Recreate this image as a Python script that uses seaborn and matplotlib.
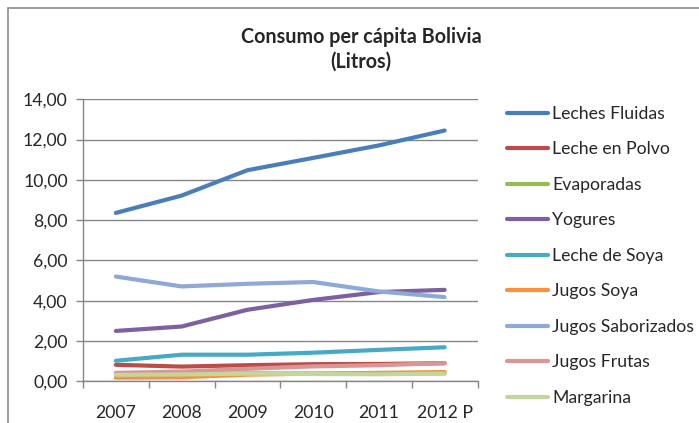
import matplotlib
matplotlib.use("Agg")
import matplotlib.pyplot as plt
from matplotlib.patches import Rectangle
from matplotlib.ticker import FixedLocator, FuncFormatter
import pandas as pd
import seaborn as sns

# Consumo per cápita (litros) por producto y año
years = ["2007", "2008", "2009", "2010", "2011", "2012 P"]
leches_fluidas = [8.36, 9.22, 10.48, 11.09, 11.71, 12.45]
leche_en_polvo = [0.82, 0.73, 0.80, 0.85, 0.86, 0.90]
evaporadas = [0.30, 0.33, 0.40, 0.38, 0.37, 0.40]
yogures = [2.50, 2.72, 3.55, 4.04, 4.43, 4.54]
leche_de_soya = [1.02, 1.32, 1.32, 1.42, 1.56, 1.69]
jugos_soya = [0.18, 0.20, 0.33, 0.38, 0.42, 0.46]
jugos_saborizados = [5.20, 4.71, 4.84, 4.93, 4.46, 4.18]
jugos_frutas = [0.42, 0.48, 0.62, 0.74, 0.80, 0.90]
margarina = [0.32, 0.34, 0.38, 0.36, 0.35, 0.38]

series_names = ["Leches Fluidas", "Leche en Polvo", "Evaporadas", "Yogures",
                "Leche de Soya", "Jugos Soya", "Jugos Saborizados",
                "Jugos Frutas", "Margarina"]
series_values = [leches_fluidas, leche_en_polvo, evaporadas, yogures,
                 leche_de_soya, jugos_soya, jugos_saborizados,
                 jugos_frutas, margarina]
colors = ["#4A7EBB", "#BE4B48", "#98B954", "#7D60A0", "#46AAC5",
          "#F69240", "#8EA9D6", "#D99694", "#C3D69B"]
y_ticks = [0, 2, 4, 6, 8, 10, 12, 14]

rows = []
for name, vals in zip(series_names, series_values):
    for i, v in enumerate(vals):
        rows.append({"pos": i, "serie": name, "litros": v})
df = pd.DataFrame(rows)

sns.set_style("white")
plt.rcParams["font.family"] = ["Lato", "DejaVu Sans"]

W, H = 699, 423
fig = plt.figure(figsize=(W / 100, H / 100), dpi=100)

# outer chart frame
fig.patches.append(Rectangle((8 / W, -0.1), 1.2, 1 - 8 / H + 0.1,
                             transform=fig.transFigure, fill=False,
                             edgecolor="#8C8C8C", linewidth=1.2))

ax = fig.add_axes([83 / W, 41.7 / H, 394.5 / W, 282 / H])
sns.lineplot(data=df, x="pos", y="litros", hue="serie",
             hue_order=series_names, palette=colors, linewidth=3,
             ax=ax, legend=True)
for ln in ax.lines:
    ln.set_solid_capstyle("round")
    ln.set_solid_joinstyle("round")

ax.set_xlim(-0.5, len(years) - 0.5)
ax.set_ylim(0, 14)
ax.set_xlabel("")
ax.set_ylabel("")

ax.xaxis.set_major_locator(FixedLocator(range(len(years))))
ax.set_xticklabels(years)
ax.xaxis.set_minor_locator(FixedLocator([i - 0.5 for i in range(len(years) + 1)]))
ax.tick_params(axis="x", which="major", length=0, pad=17, labelsize=12.7)
ax.tick_params(axis="x", which="minor", length=5, width=1, color="#868686",
               direction="out")
ax.yaxis.set_major_locator(FixedLocator(y_ticks))
ax.yaxis.set_major_formatter(FuncFormatter(lambda v, p: f"{v:.2f}".replace(".", ",")))
ax.tick_params(axis="y", length=5, width=1, color="#868686", direction="out",
               pad=6, labelsize=12.7)
ax.tick_params(axis="both", which="both", bottom=True, left=True)

ax.grid(axis="y", color="#868686", linewidth=1)
ax.set_axisbelow(True)
for side in ["top", "right"]:
    ax.spines[side].set_visible(False)
for side in ["left", "bottom"]:
    ax.spines[side].set_color("#868686")
    ax.spines[side].set_linewidth(1)

handles, labels = ax.get_legend_handles_labels()
ax.legend(handles, labels, loc="upper left",
          bbox_to_anchor=(507 / W, 1 - 106 / H), bbox_transform=fig.transFigure,
          frameon=False, fontsize=12.7, handlelength=2.3, handletextpad=0.25,
          labelspacing=1.105, borderaxespad=0, borderpad=0)

fig.text(361 / W, 1 - 37 / H, "Consumo per cápita Bolivia", ha="center",
         va="center", fontsize=14.2, fontweight="bold")
fig.text(361 / W, 1 - 62 / H, "(Litros)", ha="center", va="center",
         fontsize=14.2, fontweight="bold")

fig.savefig("out.png", dpi=100)
